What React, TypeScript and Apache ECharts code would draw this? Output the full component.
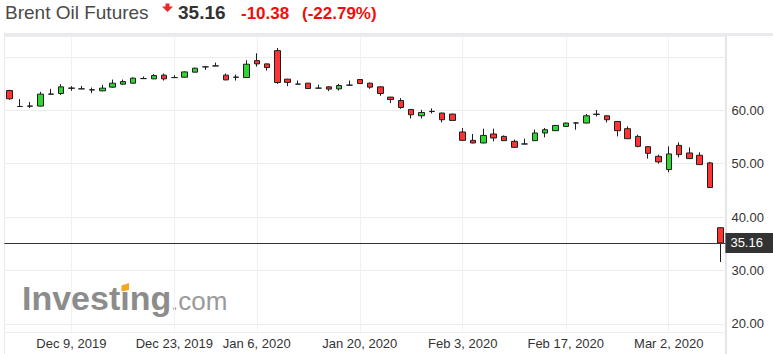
import React, { useEffect, useRef } from 'react';
import * as echarts from 'echarts';

const dates = [
  'Nov 29, 2019',
  'Dec 2, 2019', 'Dec 3, 2019', 'Dec 4, 2019', 'Dec 5, 2019', 'Dec 6, 2019',
  'Dec 9, 2019', 'Dec 10, 2019', 'Dec 11, 2019', 'Dec 12, 2019', 'Dec 13, 2019',
  'Dec 16, 2019', 'Dec 17, 2019', 'Dec 18, 2019', 'Dec 19, 2019', 'Dec 20, 2019',
  'Dec 23, 2019', 'Dec 24, 2019', 'Dec 26, 2019', 'Dec 27, 2019', 'Dec 30, 2019', 'Dec 31, 2019',
  'Jan 2, 2020', 'Jan 3, 2020',
  'Jan 6, 2020', 'Jan 7, 2020', 'Jan 8, 2020', 'Jan 9, 2020', 'Jan 10, 2020',
  'Jan 13, 2020', 'Jan 14, 2020', 'Jan 15, 2020', 'Jan 16, 2020', 'Jan 17, 2020',
  'Jan 20, 2020', 'Jan 21, 2020', 'Jan 22, 2020', 'Jan 23, 2020', 'Jan 24, 2020',
  'Jan 27, 2020', 'Jan 28, 2020', 'Jan 29, 2020', 'Jan 30, 2020', 'Jan 31, 2020',
  'Feb 3, 2020', 'Feb 4, 2020', 'Feb 5, 2020', 'Feb 6, 2020', 'Feb 7, 2020',
  'Feb 10, 2020', 'Feb 11, 2020', 'Feb 12, 2020', 'Feb 13, 2020', 'Feb 14, 2020',
  'Feb 17, 2020', 'Feb 18, 2020', 'Feb 19, 2020', 'Feb 20, 2020', 'Feb 21, 2020',
  'Feb 24, 2020', 'Feb 25, 2020', 'Feb 26, 2020', 'Feb 27, 2020', 'Feb 28, 2020',
  'Mar 2, 2020', 'Mar 3, 2020', 'Mar 4, 2020', 'Mar 5, 2020', 'Mar 6, 2020',
  'Mar 9, 2020',
];

const opens = [
  63.69, 60.71, 60.80, 60.78, 63.02, 63.13, 64.16, 64.01, 63.84, 63.64,
  64.33, 64.89, 65.07, 65.93, 65.88, 66.57, 66.12, 66.19, 67.13, 68.12,
  68.30, 66.57, 66.21, 66.12, 69.29, 68.68, 71.16, 65.82, 64.89, 65.07,
  64.14, 64.38, 64.01, 64.70, 65.75, 65.07, 64.38, 62.46, 61.83, 60.15,
  58.97, 59.80, 59.48, 59.29, 55.93, 54.37, 53.88, 55.56, 55.11, 54.18,
  53.69, 54.31, 55.75, 56.18, 56.98, 57.63, 57.61, 59.27, 58.97, 57.91,
  56.55, 55.11, 53.19, 51.38, 48.90, 53.43, 52.01, 51.57, 50.15, 38.02,
];
const closes = [
  62.15, 60.71, 60.76, 63.02, 63.04, 64.38, 64.12, 64.01, 63.80, 64.14,
  65.07, 65.37, 66.01, 65.93, 66.49, 65.88, 66.12, 67.18, 67.87, 68.12,
  68.30, 65.69, 66.17, 68.62, 68.68, 67.99, 65.19, 65.22, 64.89, 64.07,
  64.14, 63.96, 64.63, 64.70, 65.00, 64.33, 63.13, 62.01, 60.52, 59.16,
  59.59, 59.76, 58.23, 58.10, 54.37, 53.88, 55.30, 54.81, 54.31, 53.06,
  53.69, 55.75, 56.36, 57.16, 57.61, 57.61, 58.97, 59.23, 58.23, 56.18,
  54.68, 53.25, 51.94, 50.34, 51.83, 51.70, 50.95, 49.83, 45.54, 35.16,
];
const lows = [
  61.96, 60.60, 60.41, 60.71, 62.89, 62.89, 63.64, 63.96, 63.21, 63.54,
  64.20, 64.76, 65.04, 65.88, 65.82, 65.56, 66.06, 66.16, 67.09, 67.56,
  68.25, 65.60, 65.56, 66.06, 68.17, 67.43, 64.94, 64.51, 64.83, 64.01,
  64.09, 63.58, 63.69, 64.65, 64.94, 64.01, 62.71, 61.34, 60.28, 58.47,
  58.47, 59.40, 57.72, 58.04, 54.31, 53.82, 53.82, 54.18, 54.25, 53.00,
  53.64, 54.25, 54.93, 56.12, 56.92, 56.36, 57.56, 58.84, 57.72, 55.11,
  54.63, 53.06, 50.95, 50.02, 48.40, 51.19, 50.90, 49.78, 45.48, 31.60,
];
const highs = [
  63.82, 62.09, 61.53, 63.45, 64.01, 64.89, 64.51, 64.57, 64.25, 64.76,
  65.75, 65.75, 66.16, 66.31, 66.75, 66.87, 66.57, 67.28, 67.97, 68.17,
  68.92, 66.87, 66.68, 69.37, 70.67, 68.77, 71.66, 65.88, 65.56, 65.13,
  64.81, 64.48, 64.94, 65.56, 65.82, 65.19, 64.48, 62.52, 62.28, 60.22,
  60.09, 60.34, 59.53, 59.35, 56.68, 55.56, 56.55, 56.55, 55.30, 54.50,
  54.68, 56.36, 56.68, 57.24, 57.67, 57.80, 59.29, 60.04, 59.03, 57.99,
  56.98, 55.43, 53.25, 51.70, 53.25, 53.99, 53.06, 52.13, 50.34, 38.08,
];

const xLabelIdx = [6, 16, 24, 34, 44, 54, 64];
const xLabels = ['Dec 9, 2019', 'Dec 23, 2019', 'Jan 6, 2020', 'Jan 20, 2020', 'Feb 3, 2020', 'Feb 17, 2020', 'Mar 2, 2020'];

const lastPrice = 35.16;
const change = '-10.38';
const changePct = '(-22.79%)';
const instrument = 'Brent Oil Futures';

const FONT = "'Liberation Sans', Arial, sans-serif";

export default function App() {
  const ref = useRef<HTMLDivElement>(null);
  useEffect(() => {
    if (!ref.current) return;
    const chart = echarts.init(ref.current, null, { renderer: 'svg' });
    const candles = opens.map((o, i) => [o, closes[i], lows[i], highs[i]]);
    chart.setOption({
      animation: false,
      backgroundColor: '#ffffff',
      grid: { left: 4.4, right: 47.6, top: 36, bottom: 22, containLabel: false },
      xAxis: [
        { type: 'category', data: dates, boundaryGap: true, show: false },
        {
          type: 'value',
          min: -0.5,
          max: 69.5,
          position: 'bottom',
          axisLine: { show: false },
          axisTick: { show: false, customValues: xLabelIdx },
          axisLabel: {
            customValues: xLabelIdx,
            formatter: (v: number) => {
              const k = xLabelIdx.indexOf(Math.round(v));
              return k >= 0 ? xLabels[k] : '';
            },
            margin: 5,
            fontSize: 13,
            color: '#333',
            fontFamily: FONT,
          },
          splitLine: { show: true, lineStyle: { color: '#f1f1f1', width: 1 } },
        },
      ],
      yAxis: {
        type: 'value',
        position: 'right',
        min: 18.5,
        max: 73.9,
        splitNumber: 5,
        minInterval: 10,
        maxInterval: 10,
        axisLine: { show: false },
        axisTick: { show: false },
        axisLabel: {
          showMinLabel: false,
          showMaxLabel: false,
          margin: 6,
          fontSize: 13,
          color: '#333',
          fontFamily: FONT,
          formatter: (v: number) =>
            v >= 20 && v <= 60 && Math.abs(v % 10) < 1e-6 ? v.toFixed(2) : '',
        },
        splitLine: { show: true, lineStyle: { color: '#ededed', width: 1 } },
      },
      series: [
        {
          type: 'candlestick',
          xAxisIndex: 0,
          yAxisIndex: 0,
          data: candles,
          barWidth: 6,
          itemStyle: {
            color: '#2fd62f',
            color0: '#ff3333',
            borderColor: '#1e1e1e',
            borderColor0: '#1e1e1e',
            borderColorDoji: '#1e1e1e',
            borderWidth: 1,
          },
          markLine: {
            silent: true,
            symbol: ['none', 'none'],
            lineStyle: { color: '#333', width: 1, type: 'solid' },
            label: {
              show: true,
              position: 'end',
              distance: 0,
              formatter: lastPrice.toFixed(2),
              backgroundColor: '#333333',
              color: '#ffffff',
              fontSize: 13,
              fontFamily: FONT,
              padding: [4, 14, 3, 5],
            },
            data: [{ yAxis: lastPrice }],
          },
        },
      ],
      graphic: [
        // frame
        { type: 'rect', shape: { x: 4, y: 33, width: 769, height: 3 }, style: { fill: '#e9eaee' }, silent: true },
        { type: 'line', shape: { x1: 4.5, y1: 33, x2: 4.5, y2: 354 }, style: { stroke: '#e8e8e8', lineWidth: 1 }, silent: true },
        { type: 'line', shape: { x1: 726, y1: 36, x2: 726, y2: 354 }, style: { stroke: '#dcdcdc', lineWidth: 1.5 }, silent: true },
        // title
        { type: 'text', style: { text: instrument, x: 5, y: 12.5, font: `19px ${FONT}`, fill: '#4a4a4a', verticalAlign: 'middle' } },
        {
          type: 'polygon',
          shape: { points: [[165.5, 3.5], [169.5, 3.5], [169.5, 6.5], [173, 6.5], [167.5, 12], [162, 6.5], [165.5, 6.5]] },
          style: { fill: '#e62b2b' },
        },
        { type: 'text', style: { text: lastPrice.toFixed(2), x: 178, y: 12.5, font: `bold 19px ${FONT}`, fill: '#333333', verticalAlign: 'middle' } },
        { type: 'text', style: { text: change, x: 241, y: 13, font: `bold 17px ${FONT}`, fill: '#f20d0d', verticalAlign: 'middle' } },
        { type: 'text', style: { text: changePct, x: 302, y: 13, font: `bold 17px ${FONT}`, fill: '#f20d0d', verticalAlign: 'middle' } },
        // logo
        { type: 'text', style: { text: 'Investing', x: 22, y: 298, font: `bold 34px ${FONT}`, fill: '#8c8c8c', verticalAlign: 'middle' } },
        { type: 'text', style: { text: '.com', x: 171, y: 301, font: `26px ${FONT}`, fill: '#9a9a9a', verticalAlign: 'middle' } },
        {
          type: 'polygon',
          shape: { points: [[121.5, 285.5], [129, 283], [129, 290], [121.5, 291.5]] },
          style: { fill: '#f5a623' },
        },
      ],
    });
    return () => chart.dispose();
  }, []);
  return (
    <div
      ref={ref}
      style={{ position: 'absolute', left: 0, top: 0, width: 773, height: 354, background: '#fff' }}
    />
  );
}
